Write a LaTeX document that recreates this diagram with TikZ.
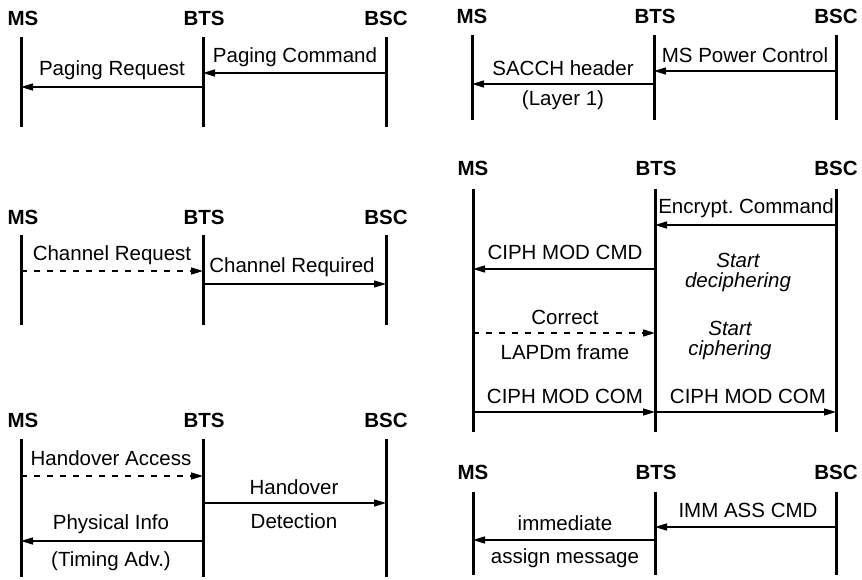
\documentclass[tikz,border=0pt]{standalone}
\usepackage{fontspec}
\setmainfont{Liberation Sans}
\usetikzlibrary{arrows.meta}
\frenchspacing
\tikzset{
  ent/.style={font=\fontsize{20.5}{24}\selectfont\bfseries, inner sep=0pt},
  lbl/.style={font=\fontsize{20.5}{24}\selectfont, inner sep=0pt},
  ital/.style={font=\fontsize{20.5}{20}\selectfont\itshape, inner sep=0pt, align=center},
  life/.style={line width=3pt},
  msg/.style={line width=1.4pt, -{Triangle[length=12pt,width=7pt]}},
  dmsg/.style={msg, dash pattern=on 6pt off 7pt},
}
\begin{document}
\begin{tikzpicture}[x=1pt,y=-1pt]
\useasboundingbox (0,0) rectangle (862,579);
% ---------- Panel 1: paging ----------
\node[ent] (ms1) at (23,18) {MS};
\node[ent] (bts1) at (204,18) {BTS};
\node[ent] (bsc1) at (386,18) {BSC};
\coordinate (ms1t) at (21,37);  \coordinate (ms1b) at (21,127);
\coordinate (bts1t) at (203,37); \coordinate (bts1b) at (203,127);
\coordinate (bsc1t) at (386,37); \coordinate (bsc1b) at (386,127);
\draw[life] (ms1t) -- (ms1b);
\draw[life] (bts1t) -- (bts1b);
\draw[life] (bsc1t) -- (bsc1b);
\node[lbl] (m1a) at (295,57) {Paging Command};
\draw[msg] (bsc1t |- 0,73) -- (bts1t |- 0,73);
\node[lbl] (m1b) at (112,70) {Paging Request};
\draw[msg] (bts1t |- 0,87) -- (ms1t |- 0,87);
% ---------- Panel 2: power control ----------
\node[ent] (ms2) at (472,16) {MS};
\node[ent] (bts2) at (655,16) {BTS};
\node[ent] (bsc2) at (836,16) {BSC};
\coordinate (ms2t) at (472,35);  \coordinate (ms2b) at (472,120);
\coordinate (bts2t) at (654,35); \coordinate (bts2b) at (654,120);
\coordinate (bsc2t) at (836,35); \coordinate (bsc2b) at (836,120);
\draw[life] (ms2t) -- (ms2b);
\draw[life] (bts2t) -- (bts2b);
\draw[life] (bsc2t) -- (bsc2b);
\node[lbl] (m2a) at (745,55) {MS Power Control};
\draw[msg] (bsc2t |- 0,71) -- (bts2t |- 0,71);
\node[lbl] (m2b) at (563,68) {SACCH header};
\draw[msg] (bts2t |- 0,84) -- (ms2t |- 0,84);
\node[lbl] (m2c) at (563,100) {(Layer 1)};
% ---------- Panel 3: channel request ----------
\node[ent] (ms3) at (23,217) {MS};
\node[ent] (bts3) at (204,217) {BTS};
\node[ent] (bsc3) at (386,217) {BSC};
\coordinate (ms3t) at (21,235);  \coordinate (ms3b) at (21,325);
\coordinate (bts3t) at (203,235); \coordinate (bts3b) at (203,325);
\coordinate (bsc3t) at (386,235); \coordinate (bsc3b) at (386,325);
\draw[life] (ms3t) -- (ms3b);
\draw[life] (bts3t) -- (bts3b);
\draw[life] (bsc3t) -- (bsc3b);
\node[lbl] (m3a) at (112,255) {Channel Request};
\draw[dmsg] (ms3t |- 0,271) -- (bts3t |- 0,271);
\node[lbl] (m3b) at (292,267) {Channel Required};
\draw[msg] (bts3t |- 0,284) -- (bsc3t |- 0,284);
% ---------- Panel 4: handover ----------
\node[ent] (ms4) at (23,420) {MS};
\node[ent] (bts4) at (204,420) {BTS};
\node[ent] (bsc4) at (386,420) {BSC};
\coordinate (ms4t) at (21,439);  \coordinate (ms4b) at (21,577);
\coordinate (bts4t) at (203,439); \coordinate (bts4b) at (203,577);
\coordinate (bsc4t) at (386,439); \coordinate (bsc4b) at (386,577);
\draw[life] (ms4t) -- (ms4b);
\draw[life] (bts4t) -- (bts4b);
\draw[life] (bsc4t) -- (bsc4b);
\node[lbl] (m4a) at (111,458) {Handover Access};
\draw[dmsg] (ms4t |- 0,476) -- (bts4t |- 0,476);
\node[lbl] (m4b) at (294,487) {Handover};
\draw[msg] (bts4t |- 0,503) -- (bsc4t |- 0,503);
\node[lbl] (m4c) at (294,521) {Detection};
\node[lbl] (m4d) at (111,524) {Physical Info};
\draw[msg] (bts4t |- 0,541) -- (ms4t |- 0,541);
\node[lbl] (m4e) at (111,561) {(Timing Adv.)};
% ---------- Panel 5: ciphering ----------
\node[ent] (ms5) at (473,168) {MS};
\node[ent] (bts5) at (656,168) {BTS};
\node[ent] (bsc5) at (836,168) {BSC};
\coordinate (ms5t) at (473,189);  \coordinate (ms5b) at (473,432);
\coordinate (bts5t) at (655,189); \coordinate (bts5b) at (655,432);
\coordinate (bsc5t) at (836,189); \coordinate (bsc5b) at (836,432);
\draw[life] (ms5t) -- (ms5b);
\draw[life] (bts5t) -- (bts5b);
\draw[life] (bsc5t) -- (bsc5b);
\node[lbl] (m5a) at (746,208) {Encrypt. Command};
\draw[msg] (bsc5t |- 0,225) -- (bts5t |- 0,225);
\node[lbl] (m5b) at (565,252) {CIPH MOD CMD};
\draw[msg] (bts5t |- 0,269) -- (ms5t |- 0,269);
\node[ital] (s5a) at (738,272) {Start\\deciphering};
\node[lbl] (m5c) at (565,317) {Correct};
\draw[dmsg] (ms5t |- 0,333) -- (bts5t |- 0,333);
\node[lbl] (m5d) at (565,352) {LAPDm frame};
\node[ital] (s5c) at (730,340) {Start\\ciphering};
\node[lbl] (m5e) at (565,396) {CIPH MOD COM};
\node[lbl] (m5f) at (748,396) {CIPH MOD COM};
\draw[msg] (ms5t |- 0,412) -- (bts5t |- 0,412);
\draw[msg] (bts5t |- 0,412) -- (bsc5t |- 0,412);
% ---------- Panel 6: immediate assignment ----------
\node[ent] (ms6) at (473,472) {MS};
\node[ent] (bts6) at (656,472) {BTS};
\node[ent] (bsc6) at (836,472) {BSC};
\coordinate (ms6t) at (473,492);  \coordinate (ms6b) at (473,575);
\coordinate (bts6t) at (655,492); \coordinate (bts6b) at (655,575);
\coordinate (bsc6t) at (836,492); \coordinate (bsc6b) at (836,575);
\draw[life] (ms6t) -- (ms6b);
\draw[life] (bts6t) -- (bts6b);
\draw[life] (bsc6t) -- (bsc6b);
\node[lbl] (m6a) at (748,510) {IMM ASS CMD};
\draw[msg] (bsc6t |- 0,527) -- (bts6t |- 0,527);
\node[lbl] (m6b) at (565,523) {immediate};
\draw[msg] (bts6t |- 0,540) -- (ms6t |- 0,540);
\node[lbl] (m6c) at (565,558) {assign message};
\end{tikzpicture}
\end{document}
